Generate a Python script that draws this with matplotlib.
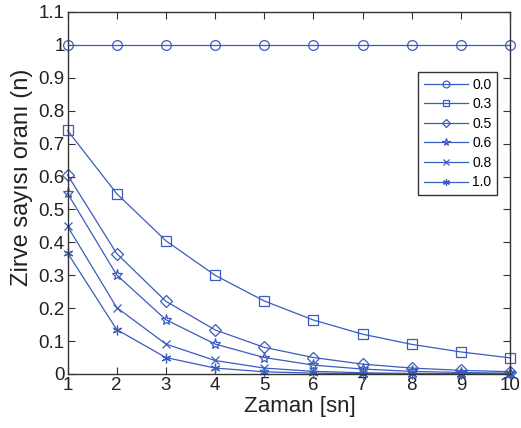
import matplotlib
matplotlib.use("Agg")
import matplotlib.pyplot as plt

plt.rcParams['font.family'] = ['Liberation Sans', 'DejaVu Sans']

time = [1, 2, 3, 4, 5, 6, 7, 8, 9, 10]
labels = ["0.0", "0.3", "0.5", "0.6", "0.8", "1.0"]
s00 = [1.0, 1.0, 1.0, 1.0, 1.0, 1.0, 1.0, 1.0, 1.0, 1.0]
s03 = [0.74, 0.548, 0.405, 0.30, 0.222, 0.164, 0.121, 0.090, 0.067, 0.049]
s05 = [0.605, 0.366, 0.221, 0.134, 0.081, 0.050, 0.030, 0.018, 0.011, 0.007]
s06 = [0.549, 0.301, 0.165, 0.091, 0.050, 0.027, 0.015, 0.008, 0.0045, 0.0025]
s08 = [0.449, 0.202, 0.091, 0.041, 0.018, 0.008, 0.0037, 0.0017, 0.0007, 0.0003]
s10 = [0.368, 0.135, 0.050, 0.018, 0.0067, 0.0025, 0.0009, 0.0003, 0.0001, 0.00005]
series = [s00, s03, s05, s06, s08, s10]
markers = ['o', 's', 'D', '*', 'x', (6, 2, 0)]
msizes = [7, 7, 6, 8, 6, 7]

yticks = [0, 0.1, 0.2, 0.3, 0.4, 0.5, 0.6, 0.7, 0.8, 0.9, 1.0, 1.1]
yticklabels = ["0", "0.1", "0.2", "0.3", "0.4", "0.5", "0.6", "0.7", "0.8", "0.9", "1", "1.1"]

color = '#3a5cc0'

fig = plt.figure(figsize=(5.21, 4.28), dpi=100)
ax = fig.add_axes([0.1296, 0.1262, 0.8493, 0.8458])

for vals, lab, m, ms in zip(series, labels, markers, msizes):
    ax.plot(time, vals, color=color, linewidth=0.9, marker=m, markersize=ms,
            markerfacecolor='none', markeredgecolor=color, markeredgewidth=0.9,
            label=lab, clip_on=False)

ax.set_xlim(1, 10)
ax.set_ylim(0, 1.1)
ax.set_xticks(time)
ax.set_yticks(yticks)
ax.set_yticklabels(yticklabels)
ax.tick_params(direction='in', top=True, right=True, labelsize=13.5, length=5,
               color='#333333', labelcolor='#222222', pad=2)
for sp in ax.spines.values():
    sp.set_color('#333333')
    sp.set_linewidth(1.0)

ax.set_xlabel("Zaman [sn]", fontsize=16, color='#222222')
ax.xaxis.set_label_coords(0.525, -0.062)
ax.set_ylabel("Zirve sayısı oranı (n)", fontsize=17, color='#222222')
ax.yaxis.set_label_coords(-0.078, 0.544)

leg = ax.legend(loc='upper right', bbox_to_anchor=(0.9706, 0.834), fontsize=10,
                frameon=True, fancybox=False, edgecolor='black', handlelength=3.2,
                borderpad=0.4, labelspacing=0.4, handletextpad=0.3,
                markerscale=0.7, borderaxespad=0)
leg.get_frame().set_linewidth(1.0)

fig.savefig("out.png", dpi=100)
